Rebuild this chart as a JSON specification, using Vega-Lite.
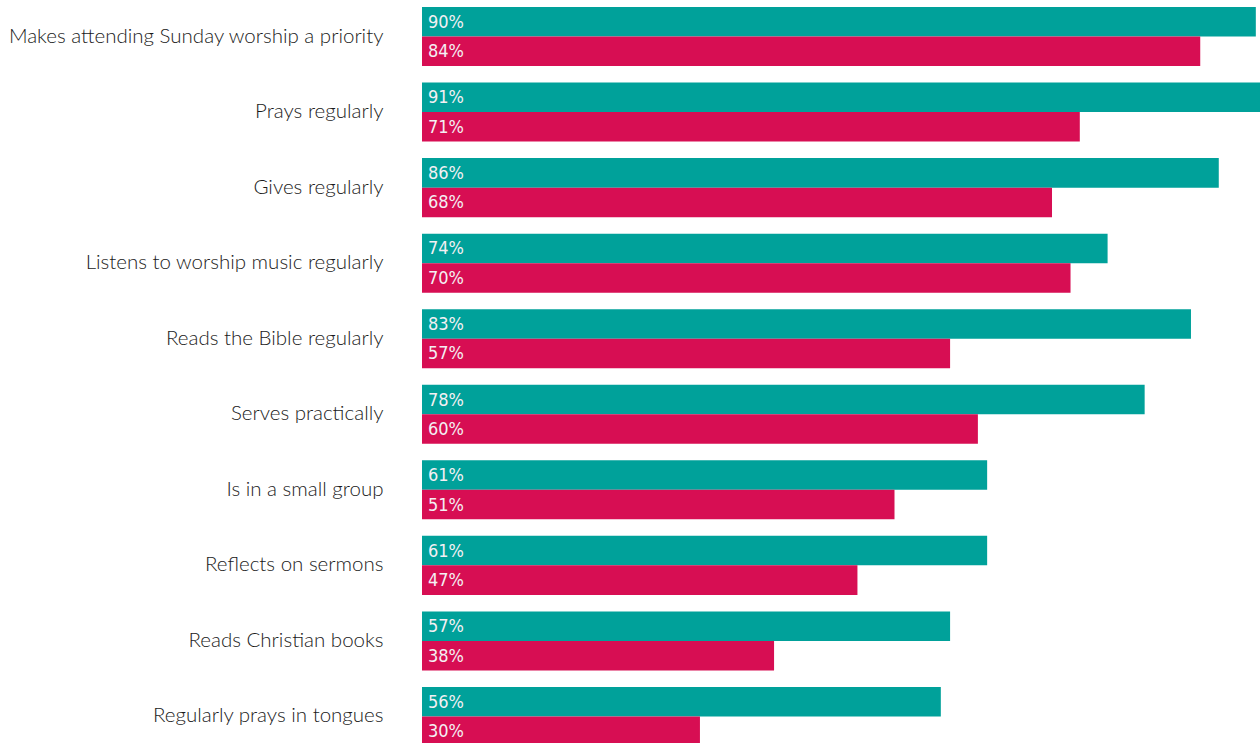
{
  "$schema": "https://vega.github.io/schema/vega-lite/v6.json",
  "autosize": {"type": "none"},
  "padding": {"left": 422, "top": 0, "right": 0, "bottom": 0},
  "width": 838,
  "height": 753,
  "background": "white",
  "config": {"view": {"stroke": null}},
  "data": {"values": [
    {"item": "Makes attending Sunday worship a priority", "group": "A", "pct": 90},
    {"item": "Makes attending Sunday worship a priority", "group": "B", "pct": 84},
    {"item": "Prays regularly", "group": "A", "pct": 91},
    {"item": "Prays regularly", "group": "B", "pct": 71},
    {"item": "Gives regularly", "group": "A", "pct": 86},
    {"item": "Gives regularly", "group": "B", "pct": 68},
    {"item": "Listens to worship music regularly", "group": "A", "pct": 74},
    {"item": "Listens to worship music regularly", "group": "B", "pct": 70},
    {"item": "Reads the Bible regularly", "group": "A", "pct": 83},
    {"item": "Reads the Bible regularly", "group": "B", "pct": 57},
    {"item": "Serves practically", "group": "A", "pct": 78},
    {"item": "Serves practically", "group": "B", "pct": 60},
    {"item": "Is in a small group", "group": "A", "pct": 61},
    {"item": "Is in a small group", "group": "B", "pct": 51},
    {"item": "Reflects on sermons", "group": "A", "pct": 61},
    {"item": "Reflects on sermons", "group": "B", "pct": 47},
    {"item": "Reads Christian books", "group": "A", "pct": 57},
    {"item": "Reads Christian books", "group": "B", "pct": 38},
    {"item": "Regularly prays in tongues", "group": "A", "pct": 56},
    {"item": "Regularly prays in tongues", "group": "B", "pct": 30}
  ]},
  "encoding": {
    "y": {
      "field": "item", "type": "nominal", "sort": null, "title": null,
      "scale": {"paddingInner": 0.218, "paddingOuter": 0.0926},
      "axis": {"domain": false, "ticks": false, "labelPadding": 39, "labelFontSize": 20.5, "labelFont": "Lato", "labelFontWeight": 300, "labelColor": "#1a1a1a", "labelLimit": 600}
    },
    "yOffset": {"field": "group", "type": "nominal", "sort": ["A", "B"]}
  },
  "layer": [
    {
      "mark": {"type": "bar"},
      "encoding": {
        "x": {"field": "pct", "type": "quantitative", "scale": {"domain": [0, 90.45], "nice": false, "clamp": false}, "axis": null},
        "color": {"field": "group", "type": "nominal", "scale": {"domain": ["A", "B"], "range": ["#00a19a", "#d70e53"]}, "legend": null}
      }
    },
    {
      "transform": [{"calculate": "datum.pct + '%'", "as": "label"}],
      "mark": {"type": "text", "align": "left", "baseline": "middle", "dx": 6, "dy": 1, "fontSize": 18, "font": "'DejaVu Sans Condensed', 'Liberation Sans Narrow', 'Noto Sans'", "fontWeight": 300, "color": "#f4f0f4"},
      "encoding": {
        "x": {"datum": 0, "type": "quantitative"},
        "text": {"field": "label", "type": "nominal"}
      }
    }
  ]
}
